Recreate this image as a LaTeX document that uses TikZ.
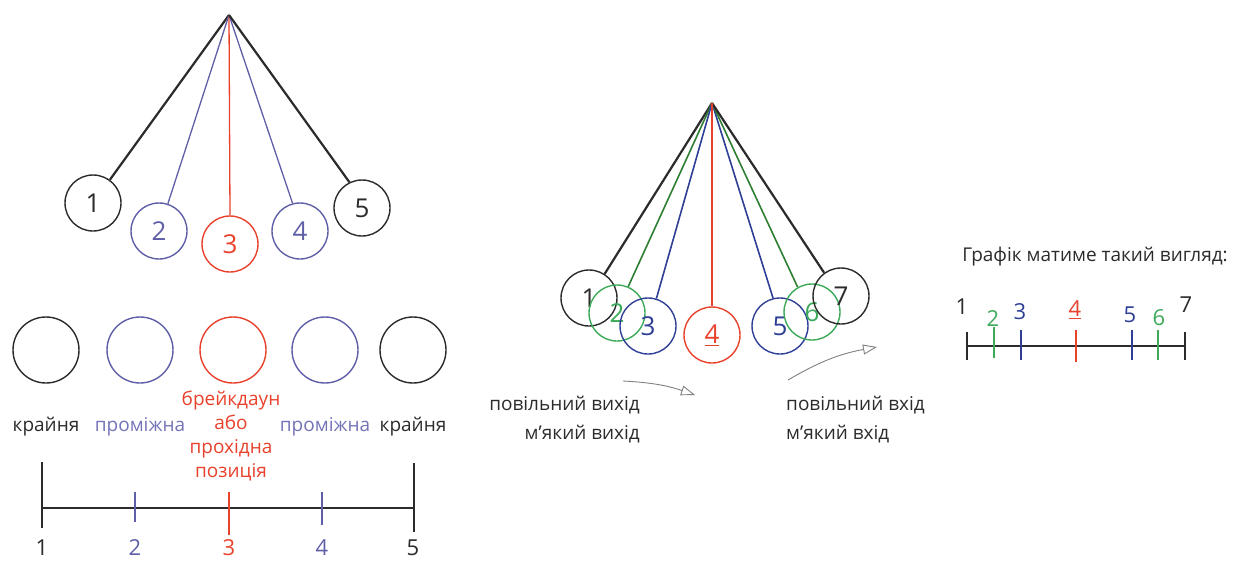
\documentclass[tikz,border=0pt]{standalone}
\usepackage{fontspec}
\setmainfont{Open Sans}
\usetikzlibrary{positioning,arrows.meta,calc}

\definecolor{pencil}{HTML}{2B2B2B}
\definecolor{lilac}{HTML}{5F5FA8}
\definecolor{lilactext}{HTML}{7373B8}
\definecolor{crayon}{HTML}{E8412C}
\definecolor{navy}{HTML}{2E3F95}
\definecolor{leaf}{HTML}{2E7F32}
\definecolor{mint}{HTML}{3DAA5A}

\tikzset{ball/.style={circle,draw,line width=1.4pt,minimum size=56pt,inner sep=0pt,font=\fontsize{26}{26}\selectfont}}
\tikzset{word/.style={font=\fontsize{19}{24}\selectfont,align=center,inner sep=0pt}}
\tikzset{digit/.style={font=\fontsize{22}{22}\selectfont,inner sep=0pt}}
\tikzset{drift/.style={-{Triangle[open,length=14pt,width=10pt]},gray,line width=0.9pt}}

\begin{document}
\begin{tikzpicture}[x=1pt,y=-1pt]
\useasboundingbox (0,0) rectangle (1233,562);

% pendulum with five positions
\coordinate (topL) at (229,15);
\foreach \n/\x/\y/\c/\w/\a in {1/93/203/pencil/2.2pt/54, 2/159/231/lilac/1.3pt/72, 3/230/244/crayon/1.3pt/90, 4/300/231/lilac/1.3pt/105, 5/362/208/pencil/2.2pt/116}{
	\node[ball,draw=\c,text=\c] (l\n) at (\x,\y) {\n};
	\draw[\c,line width=\w] (topL) -- (l\n.\a);
}

% the same positions in a row
\foreach \n/\x/\c in {1/46/pencil, 2/140/lilac, 3/233/crayon, 4/325/lilac, 5/413/pencil}
	\node[ball,draw=\c,minimum size=66pt] (r\n) at (\x,350) {};

\node[word,text=pencil] (k1) at (46,427) {крайня};
\node[word,text=lilactext] (k2) at (140,427) {проміжна};
\node[word,text=crayon] (k3) at (231,436) {брейкдаун\\або\\прохідна\\позиція};
\node[word,text=lilactext] (k4) at (325,427) {проміжна};
\node[word,text=pencil] (k5) at (413,427) {крайня};

% scale under the row
\coordinate (a1) at (42,508);
\coordinate (a5) at (414,508);
\draw[pencil,line width=1.3pt] (a1) -- (a5);
\draw[pencil,line width=2pt] (42,462) -- (42,528);
\draw[pencil,line width=2pt] (414,463) -- (414,532);
\draw[lilac,line width=1.2pt] (135,492) -- (135,522);
\draw[crayon,line width=1.5pt] (229,492) -- (229,535);
\draw[lilac,line width=1.2pt] (322,492) -- (322,525);
\foreach \n/\x/\c in {1/42/pencil, 2/135/lilac, 3/229/crayon, 4/322/lilac, 5/413/pencil}
	\node[digit,text=\c] (n\n) at (\x,548) {\n};

% pendulum with seven positions
\coordinate (topM) at (712,103);
\foreach \n/\x/\y/\c/\s/\w/\a in {1/589/298/pencil/pencil/2.2pt/57, 2/617/313/mint/leaf/1.6pt/67, 3/648/326/navy/navy/1.6pt/73, 5/780/326/navy/navy/1.6pt/104, 6/812/312/mint/leaf/1.6pt/120, 7/841/296/pencil/pencil/2.2pt/126}{
	\node[ball,draw=\c,text=\c] (m\n) at (\x,\y) {\n};
	\draw[\s,line width=\w] (topM) -- (m\n.\a);
}
\node[ball,draw=crayon,text=crayon] (m4) at (712,335) {\underline{4}};
\draw[crayon,line width=1.3pt] (topM) -- (m4);

% slow out / slow in
\coordinate (outA) at (623,381);
\coordinate (outB) at (695,395);
\draw[drift] (outA) to[bend left=8] (outB);
\coordinate (inA) at (788,380);
\coordinate (inB) at (877,347);
\draw[drift] (inA) to[bend left=10] (inB);

\node[word,text=pencil,anchor=east] (so1) at (640,405) {повільний вихід};
\node[word,text=pencil,anchor=east] (so2) at (640,434) {м’який вихід};
\node[word,text=pencil,anchor=west] (si1) at (786,405) {повільний вхід};
\node[word,text=pencil,anchor=west] (si2) at (786,434) {м’який вхід};

% resulting chart
\node[word,text=pencil] (chart) at (1095,257) {Графік матиме такий вигляд:};
\coordinate (g1) at (967,346);
\coordinate (g7) at (1185,346);
\draw[pencil,line width=1.3pt] (g1) -- (g7);
\foreach \x/\a/\b/\c in {967/332/360/pencil, 994/327/358/mint, 1021/330/360/navy, 1076/330/362/crayon, 1132/330/360/navy, 1158/330/360/mint, 1185/332/360/pencil}
	\draw[\c,line width=1.4pt] (\x,\a) -- (\x,\b);
\foreach \n/\x/\y/\c in {1/962/307/pencil, 2/993/319/mint, 3/1020/312/navy, 5/1130/315/navy, 6/1159/318/mint, 7/1186/305/pencil}
	\node[digit,text=\c] (p\n) at (\x,\y) {\n};
\node[digit,text=crayon] (p4) at (1075,310) {\underline{4}};
\end{tikzpicture}
\end{document}
